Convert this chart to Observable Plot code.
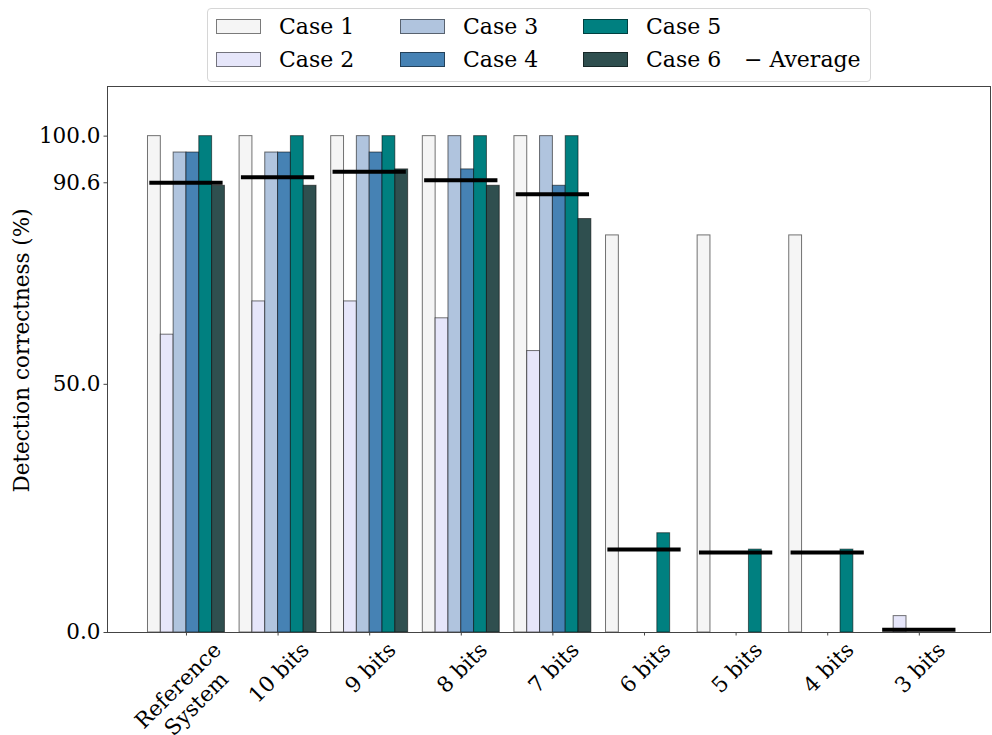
<!DOCTYPE html>
<html>
<head>
<meta charset="utf-8">
<script src="https://cdn.jsdelivr.net/npm/d3@7"></script>
<script src="https://cdn.jsdelivr.net/npm/@observablehq/plot@0.6"></script>
<style>
  html, body { margin: 0; padding: 0; background: white; }
  #wrap { position: relative; width: 992px; height: 735px; overflow: hidden; font-family: "DejaVu Serif", serif; }
  #wrap svg { position: absolute; left: 0; top: 0; }
  #legend { position: absolute; left: 207px; top: 8px; width: 664px; height: 74px; border: 1px solid #d6d6d6; border-radius: 4px; background: rgba(255,255,255,0.8); box-sizing: border-box; }
  .sw { position: absolute; width: 45px; height: 15px; border: 1px solid rgba(0,0,0,0.5); box-sizing: border-box; }
  .lt { position: absolute; font-size: 22px; line-height: 22px; white-space: nowrap; color: #000; }
</style>
</head>
<body>
<div id="wrap"></div>
<script>
// ---- data ----
const groups = ["Reference\nSystem", "10 bits", "9 bits", "8 bits", "7 bits", "6 bits", "5 bits", "4 bits", "3 bits"];
const cases = ["Case 1", "Case 2", "Case 3", "Case 4", "Case 5", "Case 6"];
const colors = ["#f5f5f5", "#e6e6fa", "#b0c4de", "#4682b4", "#008080", "#2f4f4f"];
const case1 = [100, 100, 100, 100, 100, 80, 80, 80, 0];
const case2 = [60, 66.7, 66.7, 63.3, 56.7, 0, 0, 0, 3.3];
const case3 = [96.7, 96.7, 100, 100, 100, 0, 0, 0, 0];
const case4 = [96.7, 96.7, 96.7, 93.3, 90, 0, 0, 0, 0];
const case5 = [100, 100, 100, 100, 100, 20, 16.7, 16.7, 0];
const case6 = [90, 90, 93.3, 90, 83.3, 0, 0, 0, 0];
const average = [90.6, 91.7, 92.8, 91.1, 88.3, 16.7, 16.1, 16.1, 0.55];
const yTicks = [0, 50, 90.6, 100];
const yLabel = "Detection correctness (%)";

// ---- tables ----
const series = [case1, case2, case3, case4, case5, case6];
const barW = 0.14;
const bars = [];
groups.forEach((g, gi) => series.forEach((s, ci) => bars.push({gi, ci, c: cases[ci], v: s[gi]})));
const avgRows = average.map((v, gi) => ({gi, v}));

const fs = 21.5;
const ctx = document.createElement("canvas").getContext("2d");
ctx.font = `${fs}px "DejaVu Serif"`;
function labelDy(label) {
  const lines = label.split("\n");
  const w = Math.max(...lines.map(l => ctx.measureText(l).width));
  const h = (1.2 * (lines.length - 1) + 1.17) * fs;
  return 4 + (w + h) / (2 * Math.SQRT2);
}

const xLabelMarks = groups.map((g, i) => Plot.text([g], {
  x: () => i, frameAnchor: "bottom", text: d => d, dy: labelDy(g),
  rotate: -45, textAnchor: "middle", lineAnchor: "middle", lineHeight: 1.2, fontSize: fs, fill: "black"
}));

const chart = Plot.plot({
  width: 992, height: 735,
  marginLeft: 107, marginRight: 2, marginTop: 86, marginBottom: 103,
  style: {fontFamily: "DejaVu Serif", fontSize: fs + "px", background: "white", color: "black"},
  x: {type: "linear", domain: [-0.862, 8.777]},
  y: {domain: [0, 110], label: null},
  color: {domain: cases, range: colors},
  marks: [
    Plot.rect(bars, {
      x1: d => d.gi - 0.42 + d.ci * barW, x2: d => d.gi - 0.42 + (d.ci + 1) * barW,
      y1: 0, y2: "v", fill: "c", stroke: "black", strokeOpacity: 0.55, strokeWidth: 1
    }),
    Plot.ruleY(avgRows, {y: "v", x1: d => d.gi - 0.4, x2: d => d.gi + 0.4, stroke: "black", strokeWidth: 4}),
    Plot.frame({stroke: "#444", strokeWidth: 1}),
    Plot.axisY(yTicks, {tickFormat: d => d.toFixed(1), tickSize: 3.5, tickPadding: 3.5, fontSize: fs, label: null, stroke: "#444"}),
    Plot.axisX(d3.range(groups.length), {tickSize: 3.5, tickFormat: () => "", label: null, stroke: "#444"}),
    ...xLabelMarks,
    Plot.text([yLabel], {frameAnchor: "left", text: d => d, dx: -85, dy: -9, rotate: -90, textAnchor: "middle", lineAnchor: "middle", fontSize: fs, fill: "black"})
  ]
});

const wrap = document.getElementById("wrap");
wrap.appendChild(chart);

// ---- legend ----
const legend = document.createElement("div");
legend.id = "legend";
wrap.appendChild(legend);
const colX = [215, 399, 582];
const rowY = [26, 59];
cases.forEach((c, i) => {
  const col = Math.floor(i / 2), row = i % 2;
  const sw = document.createElement("div");
  sw.className = "sw";
  sw.style.left = (colX[col] - 207) + "px";
  sw.style.top = (rowY[row] - 8 - 8) + "px";
  sw.style.background = colors[i];
  legend.appendChild(sw);
  const t = document.createElement("div");
  t.className = "lt";
  t.textContent = c;
  t.style.left = (colX[col] + 63 - 207) + "px";
  t.style.top = (rowY[row] - 8 - 11) + "px";
  legend.appendChild(t);
});
const avgT = document.createElement("div");
avgT.className = "lt";
avgT.textContent = "\u2212 Average";
avgT.style.left = (743 - 207) + "px";
avgT.style.top = (rowY[1] - 8 - 11) + "px";
legend.appendChild(avgT);
</script>
</body>
</html>
